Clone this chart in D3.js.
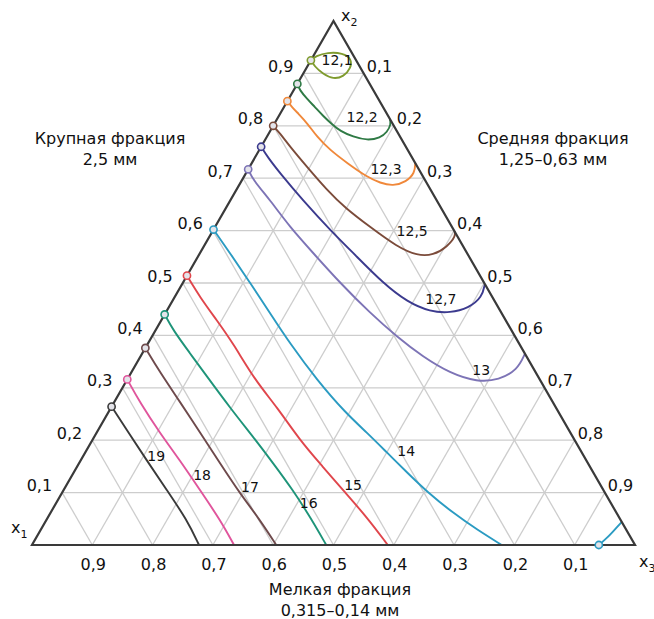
<!DOCTYPE html>
<html>
<head>
<meta charset="utf-8">
<script src="https://cdn.jsdelivr.net/npm/d3@7"></script>
<style>
  body { margin: 0; background: #fff; }
  text { font-family: "DejaVu Sans", sans-serif; fill: #111; }
  .tick-label { font-size: 16px; }
  .level-label { font-size: 14px; }
  .title { font-size: 16px; }
</style>
</head>
<body>
<script>
// ternary chart: x2 at top, x1 bottom-left, x3 bottom-right
const SIZE = { width: 654, height: 619, left: 32, right: 635, bottom: 545, top: 21 };

const TICKS = [0.1, 0.2, 0.3, 0.4, 0.5, 0.6, 0.7, 0.8, 0.9];

const levels = ['12,1', '12,2', '12,3', '12,5', '12,7', '13', '14', '15', '16', '17', '18', '19'];
const colors = ['#7f9b2e', '#2f7a45', '#f0883a', '#7b4b3a', '#3b3a8e', '#7d74b6',
                '#2b9bc2', '#e0464c', '#1e9479', '#6e4a4c', '#e0559c', '#3a3a3a'];

// each curve: [x2, x3] pairs
const curve121 = [[.925, 0], [.933, .004], [.940, .020], [.939, .046], [.928, .066], [.910, .074],
                  [.894, .070], [.889, .055], [.899, .033], [.914, .011], [.924, .002]];
const curve122 = [[.880, 0], [.868, .010], [.851, .031], [.836, .051], [.819, .073], [.803, .096],
                  [.790, .116], [.779, .143], [.772, .170], [.777, .189], [.788, .195], [.803, .194], [.813, .187]];
const curve123 = [[.847, 0], [.836, .013], [.824, .029], [.805, .054], [.779, .083], [.754, .117],
                  [.729, .158], [.702, .205], [.691, .232], [.685, .256], [.693, .274], [.710, .280], [.729, .271]];
const curve125 = [[.800, 0], [.786, .018], [.760, .048], [.721, .096], [.677, .151], [.643, .198],
                  [.607, .257], [.569, .321], [.552, .363], [.553, .389], [.569, .404], [.590, .408], [.599, .401]];
const curve127 = [[.760, 0], [.740, .021], [.710, .056], [.658, .120], [.601, .194], [.550, .264],
                  [.500, .332], [.464, .390], [.445, .438], [.443, .472], [.452, .498], [.473, .510], [.498, .502]];
const curve13 = [[.717, 0], [.697, .018], [.658, .066], [.607, .124], [.557, .188], [.500, .261],
                 [.443, .339], [.397, .407], [.359, .469], [.328, .529], [.311, .583], [.315, .617],
                 [.334, .638], [.365, .635]];
const curve14 = [[.602, 0], [.557, .050], [.500, .112], [.443, .173], [.385, .235], [.315, .315],
                 [.252, .394], [.214, .449], [.176, .501], [.139, .552], [.101, .605],
                 [.061, .668], [.029, .724], [0, .779]];
const curve14b = [[0, .940], [.0095, .945], [.023, .950], [.044, .956]];
const curve15 = [[.514, 0], [.473, .042], [.429, .092], [.385, .141], [.315, .212], [.263, .275],
                 [.200, .344], [.149, .408], [.105, .463], [.053, .529], [0, .590]];
const curve16 = [[.440, 0], [.410, .029], [.366, .079], [.328, .122], [.258, .202], [.206, .264],
                 [.156, .322], [.105, .380], [.053, .435], [0, .488]];
const curve17 = [[.376, 0], [.330, .047], [.273, .109], [.214, .172], [.156, .234], [.099, .295],
                 [.048, .354], [0, .405]];
const curve18 = [[.316, 0], [.271, .044], [.214, .105], [.162, .164], [.105, .226], [.048, .288], [0, .335]];
const curve19 = [[.264, 0], [.219, .048], [.162, .109], [.105, .171], [.048, .233], [0, .277]];

const curves = [[curve121], [curve122], [curve123], [curve125], [curve127], [curve13],
                [curve14, curve14b], [curve15], [curve16], [curve17], [curve18], [curve19]];

// where each level number sits, [x2, x3]
const labelAt = [[.924, .044], [.815, .140], [.716, .229], [.597, .332], [.468, .444], [.332, .579],
                 [.177, .532], [.113, .476], [.078, .420], [.109, .307], [.132, .216], [.168, .122]];

const xScale = d3.scaleLinear().domain([0, 1]).range([SIZE.left, SIZE.right]);
const yScale = d3.scaleLinear().domain([0, 1]).range([SIZE.bottom, SIZE.top]);
const px = (x2, x3) => xScale(x3 + x2 / 2);
const py = x2 => yScale(x2);
const fmt = d => d3.format('.1f')(d).replace('.', ',');

const svg = d3.select('body').append('svg')
    .attr('width', SIZE.width)
    .attr('height', SIZE.height);

// grid
const grid = svg.append('g')
    .attr('stroke', '#cdcdcd')
    .attr('stroke-width', 1.3);
TICKS.forEach(t => {
    // constant x2
    grid.append('line')
        .attr('x1', px(t, 0)).attr('y1', py(t))
        .attr('x2', px(t, 1 - t)).attr('y2', py(t));
    // constant x3
    grid.append('line')
        .attr('x1', px(0, t)).attr('y1', py(0))
        .attr('x2', px(1 - t, t)).attr('y2', py(1 - t));
    // constant x1 (x2 + x3 = 1 - t)
    grid.append('line')
        .attr('x1', px(0, 1 - t)).attr('y1', py(0))
        .attr('x2', px(1 - t, 0)).attr('y2', py(1 - t));
});

// curves
const line = d3.line()
    .x(d => px(d[0], d[1]))
    .y(d => py(d[0]))
    .curve(d3.curveBasis);

const curveGroup = svg.append('g');
curves.forEach((parts, i) => {
    parts.forEach(pts => {
        curveGroup.append('path')
            .attr('d', line(pts))
            .attr('fill', 'none')
            .attr('stroke', colors[i])
            .attr('stroke-width', 1.9);
    });
});

// triangle frame
svg.append('path')
    .attr('d', d3.line()([[px(0, 0), py(0)], [px(0, 1), py(0)], [px(1, 0), py(1)]]) + 'Z')
    .attr('fill', 'none')
    .attr('stroke', '#3a3a3a')
    .attr('stroke-width', 2.2);

// start markers
curves.forEach((parts, i) => {
    parts.forEach(pts => {
        svg.append('circle')
            .attr('cx', px(pts[0][0], pts[0][1]))
            .attr('cy', py(pts[0][0]))
            .attr('r', 3.6)
            .attr('fill', '#e4e4ea')
            .attr('stroke', colors[i])
            .attr('stroke-width', 1.6);
    });
});

// level labels
svg.append('g').selectAll('text')
    .data(levels)
    .join('text')
    .attr('class', 'level-label')
    .attr('x', (d, i) => px(labelAt[i][0], labelAt[i][1]))
    .attr('y', (d, i) => py(labelAt[i][0]))
    .attr('text-anchor', 'middle')
    .attr('dominant-baseline', 'middle')
    .text(d => d);

// tick labels
const ticksG = svg.append('g').attr('class', 'tick-label');
ticksG.selectAll('.left')
    .data(TICKS)
    .join('text')
    .attr('x', d => px(d, 0) - 10)
    .attr('y', d => py(d) - 6)
    .attr('text-anchor', 'end')
    .attr('dominant-baseline', 'middle')
    .text(fmt);
ticksG.selectAll('.right')
    .data(TICKS)
    .join('text')
    .attr('x', d => px(1 - d, d) + 3)
    .attr('y', d => py(1 - d) - 6)
    .attr('text-anchor', 'start')
    .attr('dominant-baseline', 'middle')
    .text(fmt);
ticksG.selectAll('.bottom')
    .data(TICKS)
    .join('text')
    .attr('x', d => px(0, 1 - d) + 1)
    .attr('y', SIZE.bottom + 20)
    .attr('text-anchor', 'middle')
    .attr('dominant-baseline', 'middle')
    .text(fmt);

// vertex names
const vertex = (x, y, sub) => {
    const t = svg.append('text').attr('x', x).attr('y', y).attr('font-size', 16);
    t.append('tspan').text('x');
    t.append('tspan').attr('dy', 5).attr('font-size', 11).text(sub);
};
vertex(11, 533, '1');
vertex(341, 21, '2');
vertex(639, 567, '3');

// axis titles
const title = (x, y, lines) => {
    svg.append('g').selectAll('text')
        .data(lines)
        .join('text')
        .attr('class', 'title')
        .attr('x', x)
        .attr('y', (d, i) => y + i * 21)
        .attr('text-anchor', 'middle')
        .attr('dominant-baseline', 'middle')
        .text(d => d);
};
title(110, 139, ['Крупная фракция', '2,5 мм']);
title(553, 139, ['Средняя фракция', '1,25–0,63 мм']);
title(340, 590, ['Мелкая фракция', '0,315–0,14 мм']);
</script>
</body>
</html>
